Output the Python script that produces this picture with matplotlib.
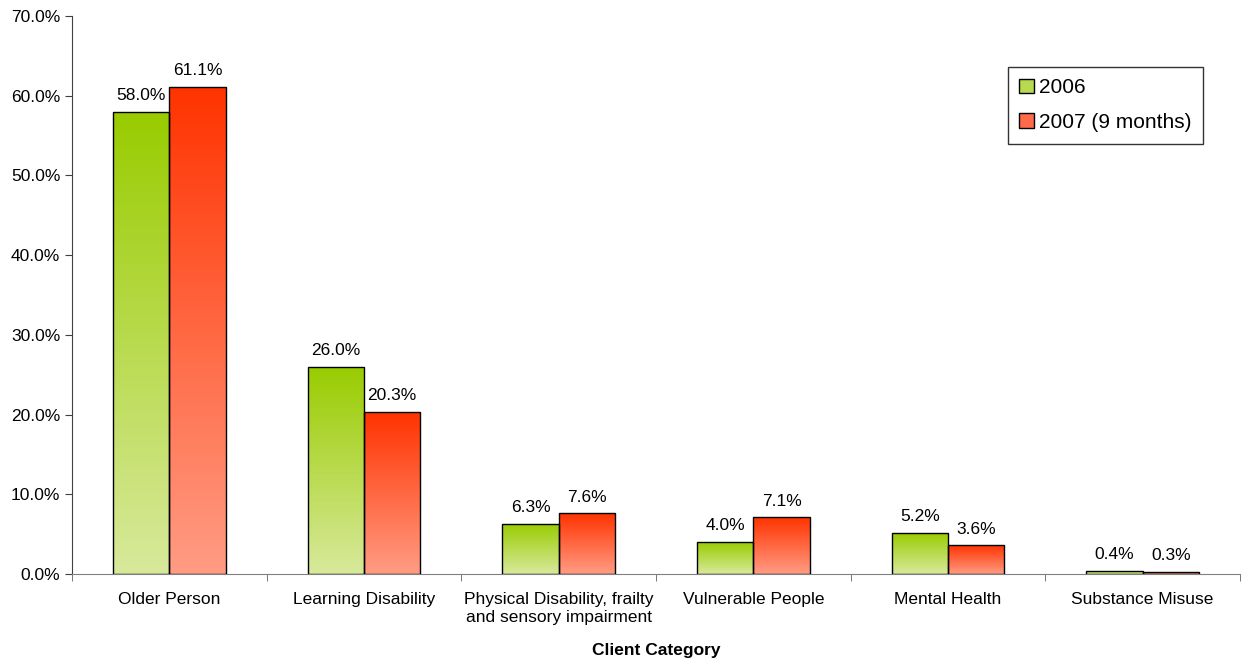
import numpy as np
import matplotlib.pyplot as plt
from matplotlib.colors import LinearSegmentedColormap
from matplotlib.patches import Patch

plt.rcParams['font.family'] = ['Liberation Sans', 'DejaVu Sans']

categories = ["Older Person", "Learning Disability",
              "Physical Disability, frailty\nand sensory impairment",
              "Vulnerable People", "Mental Health", "Substance Misuse"]
series_names = ["2006", "2007 (9 months)"]
values_2006 = [58.0, 26.0, 6.3, 4.0, 5.2, 0.4]
values_2007 = [61.1, 20.3, 7.6, 7.1, 3.6, 0.3]
yticks = [0, 10, 20, 30, 40, 50, 60, 70]

# bottom -> top colours for each series gradient
green_grad = LinearSegmentedColormap.from_list("g", ["#d8e99c", "#99cc00"])
red_grad = LinearSegmentedColormap.from_list("r", ["#ff9c84", "#ff3300"])

fig = plt.figure(figsize=(12.48, 6.63), dpi=100)
ax = fig.add_axes([72/1248, 1-574/663, (1240-72)/1248, (574-16)/663])

x = np.arange(len(categories))
w = 0.29
grad = np.linspace(0, 1, 256).reshape(-1, 1)

def gradient_bars(xs, vals, cmap):
    bars = ax.bar(xs, vals, w, facecolor="none", edgecolor="black", linewidth=1, zorder=3)
    for b in bars:
        bx, by = b.get_x(), b.get_y()
        bw, bh = b.get_width(), b.get_height()
        im = ax.imshow(grad, cmap=cmap, aspect="auto", origin="lower",
                       extent=[bx, bx + bw, by, by + bh], zorder=2)
        im.set_clip_path(b)
    return bars

b1 = gradient_bars(x - w/2, values_2006, green_grad)
b2 = gradient_bars(x + w/2, values_2007, red_grad)

for bars, vals in [(b1, values_2006), (b2, values_2007)]:
    for b, v in zip(bars, vals):
        ax.text(b.get_x() + b.get_width()/2, v + 1.1, f"{v:.1f}%",
                ha="center", va="bottom", fontsize=12.5)

ax.set_xlim(-0.5, len(categories) - 0.5)
ax.set_ylim(0, 70)
ax.set_yticks(yticks)
ax.set_yticklabels([f"{t:.1f}%" for t in yticks], fontsize=12.5)
ax.set_xticks(x)
ax.set_xticklabels(categories, fontsize=12.5, linespacing=1.25)
ax.set_xticks(np.arange(len(categories) + 1) - 0.5, minor=True)
ax.tick_params(axis="x", which="major", length=0, pad=13)
ax.tick_params(axis="x", which="minor", length=5, direction="out", color="#606060")
ax.tick_params(axis="y", length=5, direction="out", color="#404040")
ax.set_xlabel("Client Category", fontweight="bold", fontsize=12.5, labelpad=13)

for s in ["top", "right"]:
    ax.spines[s].set_visible(False)
ax.spines["left"].set_color("#404040")
ax.spines["bottom"].set_color("#808080")

handles = [Patch(facecolor="#b8da4e", edgecolor="black", label=series_names[0]),
           Patch(facecolor="#ff6a4a", edgecolor="black", label=series_names[1])]
leg = fig.legend(handles=handles, loc="upper right",
                 bbox_to_anchor=(1203/1248, 1-67/663),
                 fontsize=15, frameon=True, fancybox=False, edgecolor="black",
                 handlelength=0.7, handleheight=0.7, handletextpad=0.25,
                 labelspacing=0.75, borderpad=0.55, borderaxespad=0)
leg.get_frame().set_linewidth(1)

fig.savefig("out.png", dpi=100)
